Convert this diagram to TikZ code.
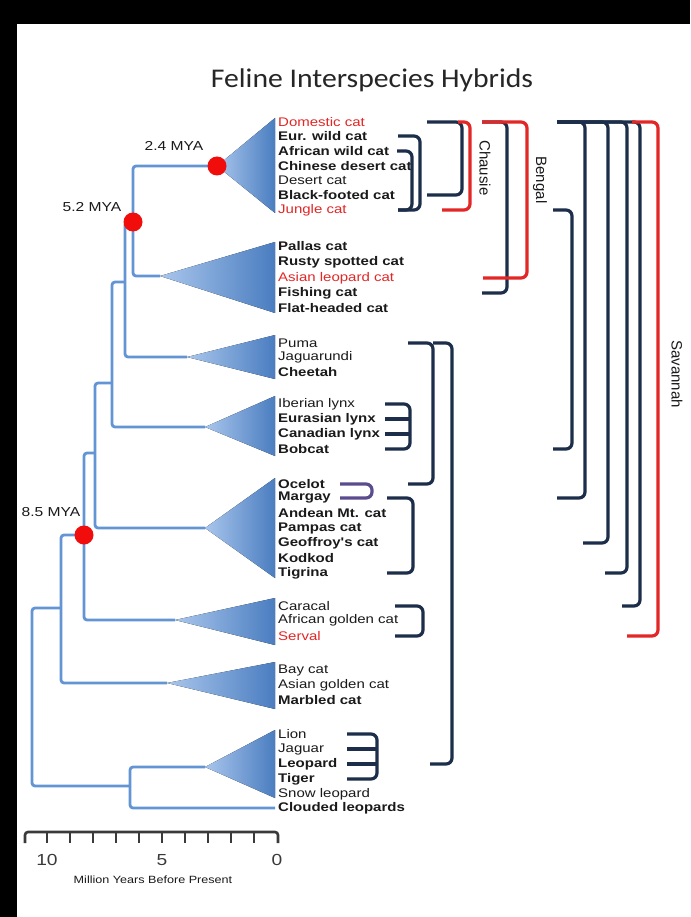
\documentclass[tikz,border=0pt]{standalone}
\usepackage{fontspec}
\setmainfont{Liberation Sans}
\newfontfamily\lblfont[FakeStretch=1.2]{Liberation Sans}
\newfontfamily\ttlfont[FakeStretch=1.1]{Carlito}
\usetikzlibrary{calc}
\definecolor{Ink}{HTML}{1A1A1A}
\definecolor{TreeBlue}{HTML}{6394D4}
\definecolor{TreeLight}{HTML}{A9C6EC}
\definecolor{CladeDark}{HTML}{4A7DC0}
\definecolor{HybNavy}{HTML}{1C2E4A}
\definecolor{HybRed}{HTML}{E32626}
\definecolor{HybPurple}{HTML}{5B4C8E}
\definecolor{SplitRed}{HTML}{F20D0D}
\definecolor{AxisGrey}{HTML}{3A3A3A}
\tikzset{
  every node/.style={text=Ink, inner sep=0pt},
  branch/.style={draw=TreeBlue, line width=2.8pt, rounded corners=3pt},
  clade/.style={left color=TreeLight, right color=CladeDark},
  split/.style={fill=SplitRed},
  species/.style={anchor=west, font=\lblfont\fontsize{12.5}{14}\selectfont\bfseries},
  species light/.style={anchor=west, font=\lblfont\fontsize{12.5}{14}\selectfont},
  age/.style={font=\lblfont\fontsize{13}{15}\selectfont},
  hybrid/.style={draw=HybNavy, line width=3.2pt, rounded corners=6pt},
  hybrid red/.style={hybrid, draw=HybRed},
  hybrid purple/.style={hybrid, draw=HybPurple},
  prong/.style={draw=HybNavy, line width=3.2pt},
  cross/.style={font=\fontsize{15}{17}\selectfont, rotate=-90},
  axisline/.style={draw=AxisGrey, line width=2.6pt, rounded corners=3pt},
}
\begin{document}
\begin{tikzpicture}[x=1pt,y=-1pt]
  \useasboundingbox (0,0) rectangle (690,917);
  % frame
  \fill[black] (0,0) rectangle (690,917);
  \fill[white] (17,24) rectangle (690,917);
  \node[font=\ttlfont\fontsize{27}{32}\selectfont, text=black!85] (title) at (372,80) {Feline Interspecies Hybrids};

  % species, one row each
  \node[species light, text=HybRed] (dom) at (278,122) {Domestic cat};
  \node[species] (eur) at (278,136) {Eur. wild cat};
  \node[species] (afr) at (278,151) {African wild cat};
  \node[species] (chi) at (278,166) {Chinese desert cat};
  \node[species light] (des) at (278,180) {Desert cat};
  \node[species] (blk) at (278,195) {Black-footed cat};
  \node[species light, text=HybRed] (jun) at (278,210) {Jungle cat};
  \node[species] (pal) at (278,246) {Pallas cat};
  \node[species] (rus) at (278,262) {Rusty spotted cat};
  \node[species light, text=HybRed] (asl) at (278,278) {Asian leopard cat};
  \node[species] (fis) at (278,293) {Fishing cat};
  \node[species] (fla) at (278,308) {Flat-headed cat};
  \node[species light] (pum) at (278,343) {Puma};
  \node[species light] (jag) at (278,357) {Jaguarundi};
  \node[species] (che) at (278,372) {Cheetah};
  \node[species light] (ibe) at (278,404) {Iberian lynx};
  \node[species] (eul) at (278,419) {Eurasian lynx};
  \node[species] (can) at (278,434) {Canadian lynx};
  \node[species] (bob) at (278,449) {Bobcat};
  \node[species] (oce) at (278,484) {Ocelot};
  \node[species] (mar) at (278,498) {Margay};
  \node[species] (andm) at (278,513) {Andean Mt. cat};
  \node[species] (pam) at (278,528) {Pampas cat};
  \node[species] (geo) at (278,543) {Geoffroy's cat};
  \node[species] (kod) at (278,558) {Kodkod};
  \node[species] (tig) at (278,573) {Tigrina};
  \node[species light] (car) at (278,606) {Caracal};
  \node[species light] (agc) at (278,620) {African golden cat};
  \node[species light, text=HybRed] (ser) at (278,636) {Serval};
  \node[species light] (bay) at (278,670) {Bay cat};
  \node[species light] (agl) at (278,685) {Asian golden cat};
  \node[species] (mbl) at (278,700) {Marbled cat};
  \node[species light] (lio) at (278,734) {Lion};
  \node[species light] (jgr) at (278,749) {Jaguar};
  \node[species] (leo) at (278,764) {Leopard};
  \node[species] (tie) at (278,779) {Tiger};
  \node[species light] (sno) at (278,794) {Snow leopard};
  \node[species] (clo) at (278,808) {Clouded leopards};

  % tree: splits and clade tips
  \coordinate (n24) at (217,166);
  \coordinate (n52) at (133,222);
  \coordinate (c1) at (125,282);
  \coordinate (c2) at (112,383);
  \coordinate (c3) at (95,453);
  \coordinate (n85) at (84,535);
  \coordinate (c5) at (61,608);
  \coordinate (root) at (32,700);
  \coordinate (pan) at (130,786);
  \coordinate (felB) at (160,276);
  \coordinate (pumA) at (187,357);
  \coordinate (lynA) at (205,427);
  \coordinate (leoA) at (205,528);
  \coordinate (carA) at (175,620);
  \coordinate (bayA) at (167,683);
  \coordinate (panA) at (205,767);

  \fill[clade] (n24) -- (275,118) -- (275,213) -- cycle;
  \fill[clade] (felB) -- (275,242) -- (275,313) -- cycle;
  \fill[clade] (pumA) -- (275,335) -- (275,379) -- cycle;
  \fill[clade] (lynA) -- (275,396) -- (275,456) -- cycle;
  \fill[clade] (leoA) -- (275,478) -- (275,578) -- cycle;
  \fill[clade] (carA) -- (275,598) -- (275,645) -- cycle;
  \fill[clade] (bayA) -- (275,662) -- (275,709) -- cycle;
  \fill[clade] (panA) -- (275,730) -- (275,798) -- cycle;

  \draw[branch] (n24) -| (n52) |- (felB);
  \draw[branch] (n52) -| (c1) |- (pumA);
  \draw[branch] (c1) -| (c2) |- (lynA);
  \draw[branch] (c2) -| (c3) |- (leoA);
  \draw[branch] (c3) -| (n85) |- (carA);
  \draw[branch] (n85) -| (c5) |- (bayA);
  \draw[branch] (c5) -| (root) |- (pan);
  \draw[branch] (pan) |- (panA);
  \draw[branch] (pan) |- ([xshift=-3pt]clo.west);

  \fill[split] (n24) circle (9.5);
  \fill[split] (n52) circle (9.5);
  \fill[split] (n85) circle (9.5);
  \node[age] (a24) at (174,146) {2.4 MYA};
  \node[age] (a52) at (92,207) {5.2 MYA};
  \node[age] (a85) at (51,512) {8.5 MYA};

  % hybrids near the labels
  \draw[hybrid] (398,0 |- eur) -- (420,0 |- eur) -- (420,0 |- jun) -- (398,0 |- jun);
  \draw[hybrid] (397,0 |- afr) -- (412,0 |- afr) -- (412,0 |- jun) -- (398,0 |- jun);
  \draw[hybrid] (385,0 |- ibe) -- (410,0 |- ibe) -- (410,0 |- bob) -- (385,0 |- bob);
  \draw[prong] (385,0 |- eul) -- (409,0 |- eul);
  \draw[prong] (385,0 |- can) -- (409,0 |- can);
  \draw[hybrid purple] (340,0 |- oce) -- (372,0 |- oce) -- (372,0 |- mar) -- (340,0 |- mar);
  \draw[hybrid] (387,0 |- mar) -- (413,0 |- mar) -- (413,0 |- tig) -- (387,0 |- tig);
  \draw[hybrid] (395,0 |- car) -- (423,0 |- car) -- (423,0 |- ser) -- (395,0 |- ser);
  \draw[hybrid] (347,0 |- lio) -- (377,0 |- lio) -- (377,0 |- tie) -- (347,0 |- tie);
  \draw[prong] (347,0 |- jgr) -- (376,0 |- jgr);
  \draw[prong] (347,0 |- leo) -- (376,0 |- leo);
  \draw[hybrid] (408,0 |- pum) -- (433,0 |- pum) -- (433,0 |- oce) -- (408,0 |- oce);
  \draw[hybrid] (433,0 |- pum) -- (452,0 |- pum) -- (452,0 |- leo) -- (430,0 |- leo);

  % Chausie and Bengal
  \draw[hybrid] (427,0 |- dom) -- (462,0 |- dom) -- (462,0 |- blk) -- (427,0 |- blk);
  \draw[hybrid red] (458,0 |- dom) -- (470,0 |- dom) -- (470,0 |- jun) -- (442,0 |- jun);
  \draw[hybrid] (482,0 |- dom) -- (507,0 |- dom) -- (507,0 |- fis) -- (482,0 |- fis);
  \draw[hybrid red] (482,0 |- dom) -- (527,0 |- dom) -- (527,0 |- asl) -- (483,0 |- asl);
  \node[cross] (chausie) at (485,168) {Chausie};
  \node[cross] (bengal) at (540,180) {Bengal};

  % Savannah and the other domestic crosses
  \draw[hybrid] (553,0 |- jun) -- (572,0 |- jun) -- (572,0 |- bob) -- (553,0 |- bob);
  \draw[hybrid] (557,0 |- dom) -- (585,0 |- dom) -- (585,0 |- mar) -- (557,0 |- mar);
  \draw[hybrid] (557,0 |- dom) -- (608,0 |- dom) -- (608,0 |- geo) -- (583,0 |- geo);
  \draw[hybrid] (557,0 |- dom) -- (627,0 |- dom) -- (627,0 |- tig) -- (605,0 |- tig);
  \draw[hybrid] (557,0 |- dom) -- (640,0 |- dom) -- (640,0 |- car) -- (622,0 |- car);
  \draw[hybrid red] (632,0 |- dom) -- (658,0 |- dom) -- (658,0 |- ser) -- (627,0 |- ser);
  \node[cross] (savannah) at (677,374) {Savannah};

  % Axis: x = 277 - 23 * (million years)
  \draw[axisline] (25,843) -- (25,832) -- (278,832) -- (278,843);
  \foreach \v in {1,...,10}
    \draw[axisline] ({277-23*\v},832) -- ({277-23*\v},843);
  \foreach \v in {0,5,10}
    \node[font=\lblfont\fontsize{16}{18}\selectfont, text=AxisGrey] (t\v) at ({277-23*\v},860) {\v};
  \node[font=\lblfont\fontsize{10.5}{12}\selectfont] (axiscap) at (153,880) {Million Years Before Present};
\end{tikzpicture}
\end{document}
